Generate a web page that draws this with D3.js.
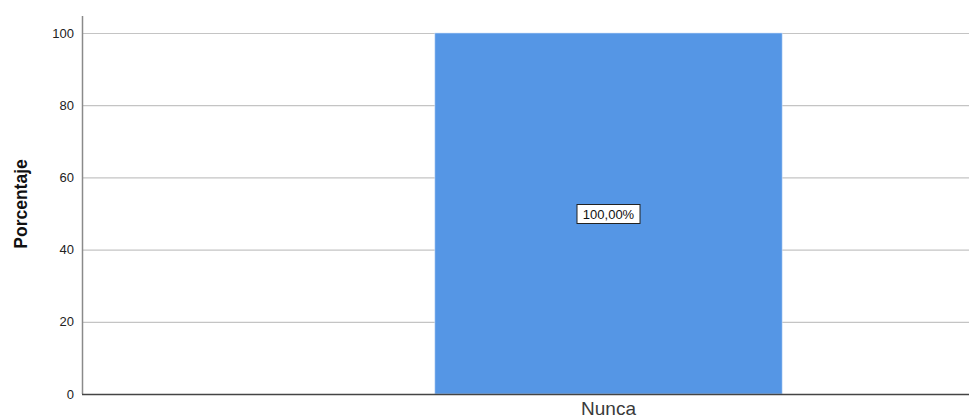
<!DOCTYPE html>
<html>
<head>
<meta charset="utf-8">
<script src="https://cdn.jsdelivr.net/npm/d3@7"></script>
<style>
  body { margin: 0; background: #fff; }
  svg text { font-family: "Liberation Sans", Arial, sans-serif; }
</style>
</head>
<body>
<div id="chart"></div>
<script>
// data
var categories = ["Nunca"];
var percentages = [100];
var barLabels = ["100,00%"];
var yTicks = [0, 20, 40, 60, 80, 100];
var yTitle = "Porcentaje";

var width = 969, height = 420;
var svg = d3.select("#chart").append("svg")
    .attr("width", width)
    .attr("height", height);

// scales (plot runs past the right edge in the original)
var x = d3.scaleBand()
    .domain(categories)
    .range([82, 1135])
    .padding(0.504);
var y = d3.scaleLinear()
    .domain([0, 100])
    .range([394, 33]);

// gridlines
svg.append("g").selectAll("line")
    .data(yTicks.filter(function(d) { return d > 0; }))
    .enter().append("line")
    .attr("x1", 82).attr("x2", width)
    .attr("y1", function(d) { return y(d) + 0.5; })
    .attr("y2", function(d) { return y(d) + 0.5; })
    .attr("stroke", "#c4c4c4")
    .attr("stroke-width", 1.2);

// bars
svg.append("g").selectAll("rect")
    .data(categories)
    .enter().append("rect")
    .attr("x", function(d) { return x(d); })
    .attr("y", function(d, i) { return y(percentages[i]); })
    .attr("width", x.bandwidth())
    .attr("height", function(d, i) { return y(0) - y(percentages[i]); })
    .attr("fill", "#5596e5")
    .attr("stroke", "#cfe0f7")
    .attr("stroke-width", 0.6);

// y axis
var yAxis = d3.axisLeft(y).tickValues(yTicks).tickSize(0).tickPadding(8);
var yg = svg.append("g")
    .attr("transform", "translate(82,0)")
    .call(yAxis);
yg.select(".domain").remove();
yg.selectAll("text")
    .attr("font-size", 13)
    .attr("fill", "#222");
svg.append("line")
    .attr("x1", 82.5).attr("x2", 82.5)
    .attr("y1", 16).attr("y2", 394)
    .attr("stroke", "#8a8a8a")
    .attr("stroke-width", 1.5);

// x axis
var xAxis = d3.axisBottom(x).tickSize(0).tickPadding(8);
var xg = svg.append("g")
    .attr("transform", "translate(0,394)")
    .call(xAxis);
xg.select(".domain").remove();
xg.selectAll("text")
    .attr("font-size", 19)
    .attr("fill", "#3a3a3a");
svg.append("line")
    .attr("x1", 82).attr("x2", width)
    .attr("y1", 394.5).attr("y2", 394.5)
    .attr("stroke", "#444")
    .attr("stroke-width", 1.3);

// y title
svg.append("text")
    .attr("transform", "translate(27,204) rotate(-90)")
    .attr("text-anchor", "middle")
    .attr("font-size", 17.5)
    .attr("font-weight", "bold")
    .attr("fill", "#111")
    .text(yTitle);

// value labels
var lbl = svg.append("g").selectAll("g")
    .data(categories)
    .enter().append("g")
    .attr("transform", function(d, i) {
        return "translate(" + (x(d) + x.bandwidth() / 2) + "," + y(percentages[i] / 2) + ")";
    });
lbl.append("rect")
    .attr("x", -31.5).attr("y", -9)
    .attr("width", 63).attr("height", 19)
    .attr("fill", "#fff")
    .attr("stroke", "#222")
    .attr("stroke-width", 1);
lbl.append("text")
    .attr("text-anchor", "middle")
    .attr("dy", "0.42em")
    .attr("font-size", 13)
    .attr("fill", "#111")
    .text(function(d, i) { return barLabels[i]; });
</script>
</body>
</html>
